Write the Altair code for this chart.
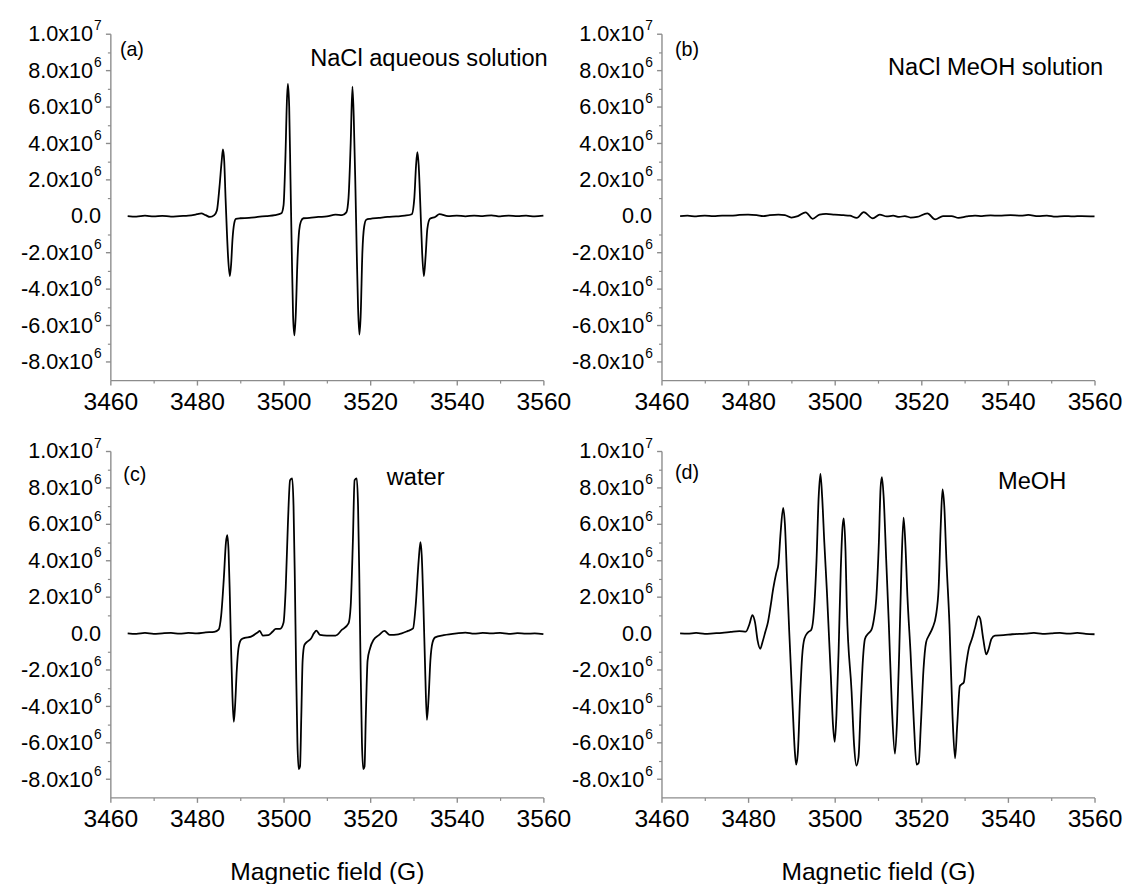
import altair as alt
import pandas as pd

FONT = "Liberation Sans"
AXIS_GRAY = "#8c8c8c"

x_domain = [3460, 3560]
y_domain = [-9e6, 1e7]
x_major = [3460, 3480, 3500, 3520, 3540, 3560]
x_minor = [3470, 3490, 3510, 3530, 3550]
y_major = [-8e6, -6e6, -4e6, -2e6, 2e6, 4e6, 6e6, 8e6, 1e7]
y_zero = [0]
y_minor = [-7e6, -5e6, -3e6, -1e6, 1e6, 3e6, 5e6, 7e6, 9e6]

# ---- (a) NaCl aqueous solution  (signal in units of 1e6) ----
a_field = [3464, 3466, 3468, 3470, 3472, 3474, 3476, 3478, 3480, 3481, 3482, 3483, 3484,
           3484.6, 3485.2, 3485.7, 3486.0, 3486.3, 3486.6, 3486.9, 3487.2, 3487.6, 3487.9,
           3488.2, 3488.6, 3489.0, 3490, 3492, 3494, 3496, 3498, 3499.5, 3500.0, 3500.4,
           3500.8, 3501.0, 3501.3, 3501.6, 3501.9, 3502.2, 3502.5, 3502.8, 3503.2, 3503.6,
           3504.0, 3504.6, 3506, 3508, 3510, 3512, 3513.5, 3514.5, 3515.0, 3515.5, 3515.9,
           3516.2, 3516.6, 3516.9, 3517.2, 3517.5, 3517.8, 3518.2, 3518.6, 3519.1, 3520,
           3522, 3524, 3526, 3528, 3529.6, 3530.2, 3530.6, 3530.9, 3531.2, 3531.6, 3532.0,
           3532.4, 3532.8, 3533.2, 3533.8, 3535, 3536, 3538, 3540, 3542, 3544, 3546, 3548,
           3550, 3552, 3554, 3556, 3558, 3560]
a_signal = [0.0, -0.03, 0.02, -0.02, 0.01, -0.03, 0.0, 0.02, 0.1, 0.15, 0.05, -0.05, 0.05,
            0.3, 1.6, 3.0, 3.65, 3.0, 1.0, -0.8, -2.3, -3.3, -2.6,
            -1.3, -0.4, -0.15, -0.12, -0.1, -0.05, 0.0, 0.05, 0.15, 0.6, 3.0,
            6.5, 7.25, 6.0, 2.0, -2.0, -5.5, -6.55, -5.5, -2.5, -0.8,
            -0.3, -0.12, -0.1, -0.05, -0.02, 0.08, 0.05, 0.2, 1.0, 4.0, 7.1,
            5.5, 1.5, -2.0, -5.0, -6.5, -5.5, -2.0, -0.6, -0.2, -0.15,
            -0.1, -0.05, -0.02, 0.02, 0.1, 1.0, 2.8, 3.5, 2.8, 0.5, -2.0,
            -3.3, -2.2, -0.7, -0.15, -0.05, 0.1, 0.0, 0.03, -0.02, 0.03, 0.0, 0.04,
            -0.02, 0.03, 0.0, 0.02, -0.02, 0.02]

# ---- (b) NaCl MeOH solution ----
b_field = [3464.3, 3466, 3468, 3470, 3472, 3474, 3476, 3478, 3480, 3482, 3483.5, 3485,
           3487, 3488.5, 3490, 3491.5, 3493.3, 3494.9, 3496.5, 3498, 3500, 3502, 3503.5,
           3505.1, 3506.7, 3508.8, 3510.4, 3512, 3513.5, 3514.9, 3516.2, 3517.5, 3519,
           3521.4, 3523.2, 3525, 3527, 3528.6, 3530.5, 3532.4, 3534, 3536, 3538, 3540.6,
           3543, 3544.7, 3547, 3549, 3551, 3553, 3555, 3557, 3560]
b_signal = [0.0, 0.02, -0.02, 0.03, 0.0, 0.03, 0.02, 0.06, 0.08, 0.05, 0.0, 0.05,
            0.08, 0.05, -0.08, 0.0, 0.2, -0.15, 0.08, 0.12, 0.08, 0.05, 0.02,
            -0.1, 0.22, -0.13, 0.08, -0.02, 0.02, -0.05, 0.0, -0.08, -0.05,
            0.15, -0.18, 0.0, 0.0, -0.1, -0.02, 0.03, 0.0, 0.04, 0.02, 0.05,
            0.02, 0.06, 0.0, 0.03, -0.03, 0.0, -0.02, 0.0, -0.02]

# ---- (c) water ----
c_field = [3464, 3466, 3468, 3470, 3472, 3474, 3476, 3478, 3480, 3482, 3484, 3485.0,
           3485.6, 3486.2, 3486.7, 3487.0, 3487.3, 3487.6, 3487.9, 3488.2, 3488.5, 3488.8,
           3489.2, 3489.6, 3490.2, 3491, 3492.5, 3494.0, 3494.5, 3495.2, 3496.5, 3497.5,
           3498.2, 3499.2, 3500.0, 3500.5, 3501.0, 3501.5, 3502.0, 3502.3, 3502.6, 3502.9,
           3503.2, 3503.5, 3503.8, 3504.1, 3504.4, 3504.8, 3505.5, 3506.3, 3507.0, 3507.6,
           3508.4, 3510, 3512, 3513.5, 3515.0, 3515.5, 3516.0, 3516.4, 3516.9, 3517.2,
           3517.5, 3517.8, 3518.1, 3518.4, 3518.7, 3519.0, 3519.4, 3520.0, 3520.8, 3522.0,
           3523.3, 3524.5, 3526.5, 3528.6, 3529.9, 3530.5, 3531.2, 3531.6, 3531.9, 3532.3,
           3532.7, 3533.1, 3533.5, 3533.9, 3534.4, 3535.0, 3537, 3540, 3542, 3544, 3546,
           3548, 3550, 3552, 3554, 3556, 3558, 3560]
c_signal = [0.0, -0.03, 0.02, -0.03, 0.0, 0.02, -0.02, 0.02, 0.0, 0.05, 0.08, 0.2,
            1.0, 3.0, 5.0, 5.38, 4.5, 2.0, -1.0, -3.5, -4.85, -4.0,
            -2.0, -0.8, -0.35, -0.25, -0.18, 0.05, 0.13, -0.12, -0.1, 0.1,
            0.25, 0.25, 0.6, 2.5, 6.0, 8.4, 8.5, 7.0, 3.0, -2.0,
            -6.0, -7.45, -7.3, -4.5, -1.5, -0.65, -0.45, -0.3, 0.0, 0.15,
            -0.08, -0.12, -0.12, 0.2, 0.55, 1.5, 5.0, 8.4, 8.5, 7.0,
            3.0, -2.0, -6.0, -7.45, -7.3, -4.5, -1.5, -0.8, -0.35, -0.1,
            0.13, -0.08, -0.05, 0.12, 0.27, 1.5, 4.0, 5.0, 4.3, 1.5,
            -2.0, -4.75, -3.5, -1.5, -0.5, -0.22, -0.1, 0.0, 0.04, -0.02, 0.03,
            0.0, 0.02, -0.03, 0.01, -0.02, 0.0, -0.04]

# ---- (d) MeOH ----
d_field = [3464.3, 3466, 3468, 3470, 3472, 3474, 3476, 3478, 3479.5, 3480.3, 3481.0,
           3481.6, 3482.2, 3482.8, 3483.3, 3484.0, 3484.6, 3485.2, 3485.8, 3486.5, 3487.0,
           3487.5, 3488.1, 3488.5, 3489.0, 3489.5, 3490.3, 3490.8, 3491.1, 3491.5, 3492.0,
           3492.5, 3493.0, 3493.8, 3494.6, 3495.2, 3495.8, 3496.3, 3496.7, 3497.1, 3497.6,
           3498.2, 3499.1, 3499.6, 3500.0, 3500.4, 3500.9, 3501.4, 3501.8, 3502.1, 3502.5,
           3502.8, 3503.9, 3504.5, 3505.0, 3505.5, 3506.0, 3506.5, 3507.0, 3507.8, 3508.5,
           3509.0, 3509.6, 3510.2, 3510.6, 3510.9, 3511.3, 3511.9, 3512.5, 3513.2, 3513.9,
           3514.4, 3514.9, 3515.4, 3515.9, 3516.3, 3516.8, 3517.5, 3518.3, 3518.9, 3519.4,
           3519.9, 3520.5, 3521.1, 3521.8, 3522.6, 3523.4, 3524.0, 3524.5, 3524.9, 3525.3,
           3525.8, 3526.5, 3527.2, 3527.8, 3528.3, 3528.9, 3529.3, 3529.8, 3530.3, 3531.0,
           3531.7, 3532.4, 3533.2, 3533.6, 3534.3, 3535.0, 3535.5, 3536.2, 3537.0, 3539,
           3541, 3544, 3546, 3548, 3550, 3552, 3554, 3556, 3558, 3560]
d_signal = [0.0, -0.02, 0.02, -0.03, 0.0, 0.03, 0.08, 0.12, 0.1, 0.5, 1.0,
            0.6, -0.4, -0.85, -0.5, 0.1, 0.63, 1.5, 2.45, 3.3, 3.8,
            5.5, 6.88, 6.0, 3.0, 0.1, -4.1, -6.5, -7.2, -6.5, -3.5,
            -1.2, -0.3, 0.05, 0.2, 1.2, 4.0, 7.5, 8.75, 7.5, 5.0,
            2.3, -2.3, -5.0, -5.95, -4.5, -1.0, 3.5, 5.8, 6.3, 4.5,
            1.4, -3.2, -6.2, -7.25, -6.8, -4.0, -1.5, -0.3, 0.0, 0.2,
            0.7, 1.9, 5.0, 8.0, 8.57, 7.5, 4.0, 0.5, -4.0, -6.6,
            -4.8, -1.0, 3.5, 6.35, 5.0, 2.0, -1.0, -5.0, -7.2, -7.1,
            -5.0, -2.0, -0.5, -0.1, 0.3, 1.0, 2.5, 6.0, 7.9, 7.0,
            4.0, 0.5, -4.5, -6.85, -5.0, -2.9, -2.8, -2.7, -1.8, -0.8,
            -0.3, 0.3, 0.95, 0.8, -0.3, -1.15, -0.9, -0.3, -0.12, -0.1,
            -0.05, -0.02, 0.02, -0.03, 0.0, 0.03, -0.02, 0.02, -0.03, -0.05]

tags = ["(a)", "(b)", "(c)", "(d)"]
tag_x = [3462.2, 3463.1, 3463.0, 3463.1]
tag_y = [9.1e6, 9.1e6, 8.7e6, 8.8e6]
names = ["NaCl aqueous solution", "NaCl MeOH solution", "water", "MeOH"]
name_x = [3561.0, 3562.0, 3530.5, 3545.6]
name_y = [8.6e6, 8.1e6, 8.5e6, 8.3e6]
name_align = ["right", "right", "center", "center"]
x_title = "Magnetic field (G)"

# mantissa text, exponent text (drawn as a raised, smaller label)
MANTISSA_EXPR = ("(datum.value < 0 ? '-' : '') + "
                 "(datum.value >= 9999999 ? '1.0' : format(abs(datum.value) / 1000000, '.1f')) + 'x10'")
EXPONENT_EXPR = "datum.value >= 9999999 ? '7' : '6'"

W, H = 440, 352
TICK = 5


def panel(field, signal, idx, bottom):
    df = pd.DataFrame({"field": field, "signal": [v * 1e6 for v in signal]})
    xs = alt.Scale(domain=x_domain, nice=False, zero=False)
    ys = alt.Scale(domain=y_domain, nice=False, zero=False)

    main_x_axis = alt.Axis(
        values=x_major, format="d", orient="bottom", grid=False, labelFlush=False,
        labelOverlap=False,
        labelFontSize=25, labelFont=FONT, labelColor="black", labelPadding=5,
        tickSize=TICK, tickWidth=1.4, tickColor=AXIS_GRAY,
        domainColor=AXIS_GRAY, domainWidth=1.4,
        title=x_title if bottom else None,
        titleFont=FONT, titleFontSize=25, titleFontWeight="normal",
        titleColor="black", titlePadding=28,
    )
    mantissa_axis = alt.Axis(
        values=y_major, orient="left", grid=False, labelExpr=MANTISSA_EXPR,
        labelFlush=False, labelOverlap=False,
        labelFontSize=22, labelFont=FONT, labelColor="black", labelPadding=13,
        tickSize=TICK, tickWidth=1.4, tickColor=AXIS_GRAY,
        domainColor=AXIS_GRAY, domainWidth=1.4, title=None,
    )
    exponent_axis = alt.Axis(
        values=y_major, orient="left", grid=False, labelExpr=EXPONENT_EXPR,
        labelFlush=False, labelOverlap=False, labelAlign="left",
        labelFontSize=14, labelFont=FONT, labelColor="black", labelPadding=17,
        labelOffset=-8, ticks=False, tickSize=0, domain=False, title=None,
    )
    zero_axis = alt.Axis(
        values=y_zero, orient="left", grid=False, format=".1f",
        labelFlush=False, labelOverlap=False,
        labelFontSize=22, labelFont=FONT, labelColor="black", labelPadding=10,
        ticks=False, tickSize=0, domain=False, title=None,
    )
    minor_x_axis = alt.Axis(values=x_minor, orient="bottom", grid=False, labels=False,
                            domain=False, tickSize=3, tickWidth=1.2, tickColor=AXIS_GRAY,
                            title=None)
    minor_y_axis = alt.Axis(values=y_minor, orient="left", grid=False, labels=False,
                            domain=False, tickSize=3, tickWidth=1.2, tickColor=AXIS_GRAY,
                            title=None)

    base = alt.Chart(df)
    line = base.mark_line(color="black", strokeWidth=1.8, interpolate="monotone").encode(
        x=alt.X("field:Q", scale=xs, axis=main_x_axis),
        y=alt.Y("signal:Q", scale=ys, axis=mantissa_axis),
    )
    minor = base.mark_line(opacity=0).encode(
        x=alt.X("field:Q", scale=xs, axis=minor_x_axis),
        y=alt.Y("signal:Q", scale=ys, axis=minor_y_axis),
    )
    expo = base.mark_line(opacity=0).encode(
        x=alt.X("field:Q", scale=xs, axis=None),
        y=alt.Y("signal:Q", scale=ys, axis=exponent_axis),
    )
    zero = base.mark_line(opacity=0).encode(
        x=alt.X("field:Q", scale=xs, axis=None),
        y=alt.Y("signal:Q", scale=ys, axis=zero_axis),
    )
    tag_df = pd.DataFrame({"x": [tag_x[idx]], "y": [tag_y[idx]], "t": [tags[idx]]})
    tag = alt.Chart(tag_df).mark_text(align="left", baseline="middle", fontSize=20,
                                      font=FONT, color="black").encode(
        x=alt.X("x:Q", scale=xs, axis=None),
        y=alt.Y("y:Q", scale=ys, axis=None),
        text="t:N",
    )
    name_df = pd.DataFrame({"x": [name_x[idx]], "y": [name_y[idx]], "t": [names[idx]]})
    name = alt.Chart(name_df).mark_text(align=name_align[idx], baseline="middle", fontSize=24,
                                        font=FONT, color="black").encode(
        x=alt.X("x:Q", scale=xs, axis=None),
        y=alt.Y("y:Q", scale=ys, axis=None),
        text="t:N",
    )
    return alt.layer(line, minor, expo, zero, tag, name).resolve_axis(
        x="independent", y="independent"
    ).properties(width=W, height=H)


pa = panel(a_field, a_signal, 0, False)
pb = panel(b_field, b_signal, 1, False)
pc = panel(c_field, c_signal, 2, True)
pd_ = panel(d_field, d_signal, 3, True)

chart = alt.concat(
    pa, pb, pc, pd_, columns=2, spacing={"row": 72, "column": 120}, bounds="flush"
).properties(
    padding={"left": 12, "top": 4, "right": 5, "bottom": 5},
    background="white",
).configure_view(stroke=None)

chart.save("out.html", embed_options={"renderer": "svg", "actions": False})
